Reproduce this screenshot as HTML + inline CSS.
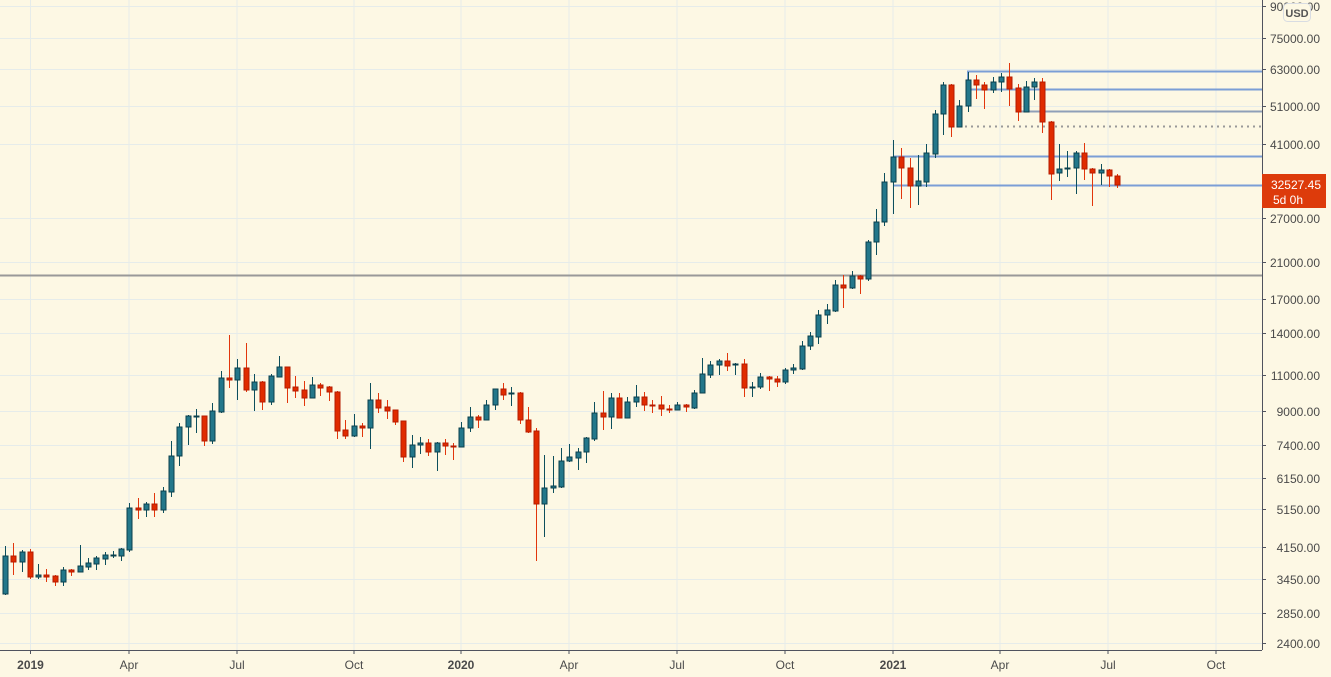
<!DOCTYPE html>
<html><head><meta charset="utf-8"><style>
html,body{margin:0;padding:0;background:#fdf8e4;}
svg{display:block;font-family:"Liberation Sans",sans-serif;}
</style></head><body>
<svg id="c" width="1331" height="677" xmlns="http://www.w3.org/2000/svg">
<rect width="1331" height="677" fill="#fdf8e4"/>
<g id="grid" stroke="#e6ecea" stroke-width="1"></g>
<g id="lines"></g>
<g id="candles"></g>
<g id="axis"></g>
</svg>
<script>
var NS="http://www.w3.org/2000/svg";
function el(p,t,a,txt){var e=document.createElementNS(NS,t);for(var k in a)e.setAttribute(k,a[k]);if(txt!==undefined)e.textContent=txt;document.getElementById(p).appendChild(e);return e;}
var ticks=[[90000,"90000.00"],[75000,"75000.00"],[63000,"63000.00"],[51000,"51000.00"],[41000,"41000.00"],[27000,"27000.00"],[21000,"21000.00"],[17000,"17000.00"],[14000,"14000.00"],[11000,"11000.00"],[9000,"9000.00"],[7400,"7400.00"],[6150,"6150.00"],[5150,"5150.00"],[4150,"4150.00"],[3450,"3450.00"],[2850,"2850.00"],[2400,"2400.00"]];
function Y(p){return 69+(Math.log(63000)-Math.log(p))*175.6;}
ticks.forEach(function(t){var y=Math.round(Y(t[0]))+0.5;el("grid","line",{x1:0,x2:1262,y1:y,y2:y});});
var vx=[[30.5,"2019",1],[129,"Apr"],[237,"Jul"],[354,"Oct"],[461,"2020",1],[569,"Apr"],[677,"Jul"],[785,"Oct"],[893,"2021",1],[1000,"Apr"],[1108,"Jul"],[1216,"Oct"]];
vx.forEach(function(v){el("grid","line",{x1:v[0],x2:v[0],y1:0,y2:650});});
el("lines","line",{x1:0,x2:1262,y1:275.5,y2:275.5,stroke:"#999","stroke-width":2});
var B="#7b9ed6";
el("lines","polyline",{points:"968,80 968,71.5 1262,71.5",fill:"none",stroke:B,"stroke-width":2});
el("lines","line",{x1:968,x2:1262,y1:89.5,y2:89.5,stroke:B,"stroke-width":2});
el("lines","line",{x1:1018,x2:1262,y1:111.5,y2:111.5,stroke:"#8f9fb8","stroke-width":2});
el("lines","line",{x1:959,x2:1262,y1:126.5,y2:126.5,stroke:"#999","stroke-width":2,"stroke-dasharray":"2,4"});
el("lines","line",{x1:893,x2:1262,y1:156.5,y2:156.5,stroke:B,"stroke-width":2});
el("lines","line",{x1:893,x2:1262,y1:185.5,y2:185.5,stroke:B,"stroke-width":2});
var d=[
[5.3,556,594,546,595,1],[13.3,556,562,543,575,0],[22.3,552,562,550,572,1],[30.3,552,577,549,579,0],[38.3,575,577,564,579,1],[46.3,575,577,569,582,0],[55.3,576,582,575,586,0],[63.3,570,582,567,586,1],[71.3,570,572,569,576,0],[80.3,566,572,545,572,1],
[88.3,563,567,558,570,1],[96.3,558,564,556,570,1],[105.3,555,559,552,565,1],[113.3,555,556,551,558,1],[121.3,549,556,548,561,1],[129.3,508,550,503,552,1],[138.3,508,510,498,519,0],[146.3,504,510,502,517,1],[154.3,504,510,493,517,0],[163.3,491,510,487,513,1],
[171.3,456,492,441,497,1],[179.3,427,456,423,466,1],[188.3,416,427,415,445,1],[196.3,416,417,409,433,1],[204.3,416,441,416,446,0],[212.3,411,441,403,444,1],[221.3,378,412,371,413,1],[229.3,378,380,335,388,0],[237.3,368,380,359,400,1],[246.3,368,390,343,392,0],
[254.3,382,390,374,411,1],[262.3,382,402,381,410,0],[271.3,376,402,374,405,1],[279.3,367,377,356,377,1],[287.3,367,388,367,403,0],[295.3,387,391,376,398,0],[304.3,390,398,381,406,0],[312.3,385,398,377,398,1],[320.3,385,388,383,396,0],[329.3,387,392,386,401,0],
[337.3,392,431,391,439,0],[345.3,430,436,420,439,0],[354.3,426,436,414,437,1],[362.3,426,428,423,437,0],[370.3,400,428,383,449,1],[378.3,400,408,393,413,0],[387.3,407,411,400,419,0],[395.3,410,422,410,425,0],[403.3,421,457,421,462,0],[412.3,445,457,435,468,1],
[420.3,443,445,437,454,1],[428.3,443,452,439,456,0],[437.3,443,452,442,471,1],[445.3,443,446,439,455,0],[453.3,446,447,443,460,0],[461.3,428,447,422,447,1],[470.3,417,428,407,432,1],[478.3,417,420,415,428,0],[486.3,405,420,400,420,1],[495.3,389,405,389,410,1],
[503.3,389,395,383,400,0],[511.3,393,394,387,406,1],[520.3,393,420,392,424,0],[528.3,420,432,407,433,0],[536.3,431,504,428,561,0],[544.3,488,504,455,537,1],[553.3,486,488,456,493,1],[561.3,461,487,448,488,1],[569.3,457,461,444,462,1],[578.3,452,458,448,470,1],
[586.3,438,452,437,463,1],[594.3,413,439,402,441,1],[603.3,413,417,391,430,0],[611.3,398,417,393,429,1],[619.3,398,418,393,418,0],[627.3,402,418,397,418,1],[636.3,397,402,385,407,1],[644.3,397,405,392,411,0],[652.3,405,406,400,413,0],[661.3,405,409,396,416,0],
[669.3,409,410,405,413,0],[677.3,405,410,402,410,1],[686.3,405,407,404,412,0],[694.3,393,408,390,409,1],[702.3,374,393,358,393,1],[710.3,365,375,361,378,1],[719.3,361,365,359,375,1],[727.3,361,366,353,371,0],[735.3,364,365,363,375,1],[744.3,364,388,359,397,0],
[752.3,387,388,382,397,1],[760.3,377,387,373,389,1],[769.3,377,379,376,391,0],[777.3,379,382,376,387,0],[785.3,370,382,368,384,1],[793.3,368,370,364,374,1],[802.3,346,369,341,370,1],[810.3,336,346,332,350,1],[818.3,315,337,310,344,1],[827.3,310,315,304,324,1],
[835.3,285,311,280,312,1],[843.3,285,288,275,308,0],[852.3,276,288,271,289,1],[860.3,276,279,275,294,0],[868.3,242,279,240,281,1],[876.3,222,242,209,255,1],[884.3,182,222,173,226,1],[893.3,157,182,140,214,1],[901.3,157,168,148,199,0],[910.3,168,186,158,208,0],
[918.3,181,186,155,205,1],[926.3,153,182,144,187,1],[935.3,114,154,110,158,1],[943.3,85,114,82,135,1],[951.3,85,127,84,137,0],[959.3,106,127,100,127,1],[968.3,80,106,72,112,1],[976.3,80,85,75,99,0],[984.3,85,90,82,109,0],[993.3,82,90,77,93,1],
[1001.3,77,82,73,92,1],[1009.3,77,89,63,106,0],[1018.3,88,112,84,121,0],[1026.3,87,112,81,112,1],[1034.3,82,87,78,100,1],[1042.3,82,122,78,133,0],[1051.3,122,174,121,200,0],[1059.3,169,173,144,181,1],[1067.3,168,169,151,177,1],[1076.3,153,168,151,194,1],
[1084.3,153,169,143,180,0],[1092.3,169,173,168,206,0],[1101.3,170,173,164,185,1],[1109.3,170,176,169,187,0],[1117.3,176,185,174,188,0]
];
d.forEach(function(c){
 var x=Math.round(c[0])+0.5,g=c[5];
 var wc=g?"#0d4f5c":"#e2360c", fc=g?"#23778a":"#e02b00", bc=g?"#0b3f4c":"#b51b00";
 el("candles","line",{x1:x,x2:x,y1:c[3],y2:c[4],stroke:wc,"stroke-width":1});
 var h=Math.max(c[2]-c[1],1);
 el("candles","rect",{x:x-2.5,y:c[1],width:5,height:h,fill:fc,stroke:bc,"stroke-width":1});
});
el("axis","rect",{x:1262,y:0,width:69,height:677,fill:"#fdf8e4"});
el("axis","rect",{x:0,y:650,width:1262,height:27,fill:"#fdf8e4"});
el("axis","line",{x1:1262.5,x2:1262.5,y1:0,y2:650,stroke:"#50535e","stroke-width":1});
el("axis","line",{x1:0,x2:1262,y1:650.5,y2:650.5,stroke:"#50535e","stroke-width":1});
ticks.forEach(function(t){var y=Math.round(Y(t[0]))+0.5;
 el("axis","line",{x1:1262,x2:1266,y1:y,y2:y,stroke:"#50535e"});
 el("axis","text",{x:1320,y:y+4.5,"font-size":12,fill:"#4a4a4a","text-anchor":"end"},t[1]);});
vx.forEach(function(v){
 el("axis","line",{x1:v[0],x2:v[0],y1:650,y2:654,stroke:"#50535e"});
 el("axis","text",{x:v[0],y:669,"font-size":12,fill:"#4a4a4a","text-anchor":"middle","font-weight":v[2]?"bold":"normal"},v[1]);});
el("axis","rect",{x:1262,y:174,width:64,height:34,fill:"#dd3b0b"});
el("axis","text",{x:1321,y:189,"font-size":12,fill:"#fff","text-anchor":"end"},"32527.45");
el("axis","text",{x:1273,y:204,"font-size":12,fill:"#fff"},"5d 0h");
el("axis","rect",{x:1283.5,y:3.5,width:27,height:18,rx:4,fill:"#fdf8e4",stroke:"#d8dce2"});
el("axis","text",{x:1297,y:17,"font-size":11,fill:"#555","text-anchor":"middle","font-weight":"bold"},"USD");
</script>
</body></html>
